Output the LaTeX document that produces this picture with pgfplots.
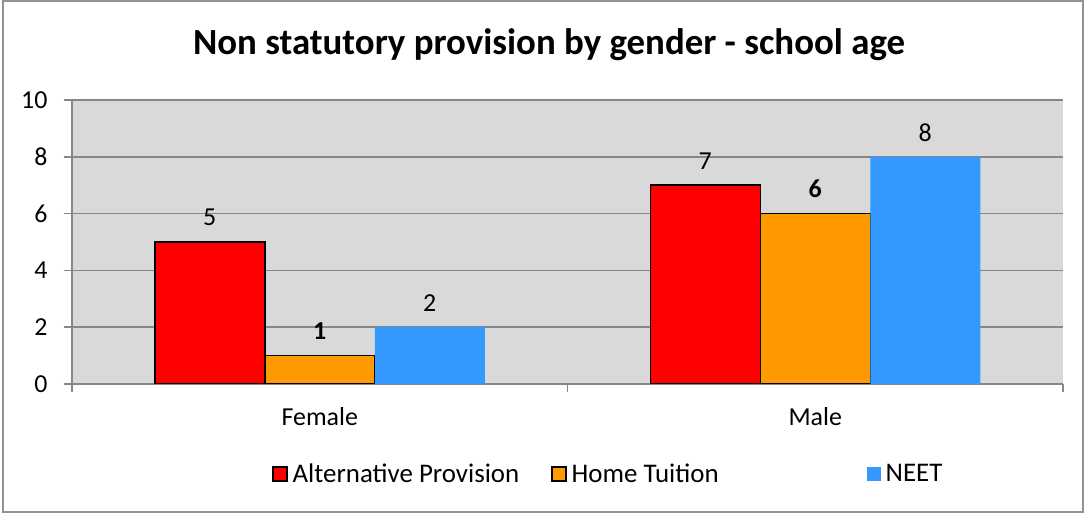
\documentclass[border=0pt]{standalone}
\usepackage{fontspec}
\setmainfont{Carlito}
\usepackage{pgfplots}
\pgfplotsset{compat=1.18}
\definecolor{apred}{HTML}{FF0000}
\definecolor{htorange}{HTML}{FF9900}
\definecolor{neetblue}{HTML}{3399FF}
\definecolor{bggray}{HTML}{D9D9D9}
\definecolor{gridgray}{HTML}{878787}
\begin{document}
\begin{tikzpicture}[x=1bp,y=1bp]
\path[use as bounding box] (-72,-130) rectangle (1020,384);
\draw[gridgray!90, line width=1.5bp] (-69,-128) rectangle (1011,383);
\begin{axis}[
  width=991bp, height=284bp, scale only axis,
  xmin=-0.5, xmax=1.5, ymin=0, ymax=10,
  ybar=0pt, bar width=110bp,
  axis lines*=left,
  axis line style={gridgray, line width=1.5bp},
  axis background/.style={fill=bggray},
  ymajorgrids, grid style={gridgray, line width=1.5bp},
  ytick={0,2,4,6,8,10},
  xtick={0,1}, xticklabels={Female,Male},
  xtick style={draw=none},
  ytick style={draw=gridgray, line width=1.5bp},
  tick align=outside, major tick length=8bp,
  extra x ticks={-0.5,0.5,1.5}, extra x tick labels={},
  extra x tick style={grid=none, xtick style={draw=gridgray, line width=1.5bp}},
  /pgf/number format/assume math mode=true,
  tick label style={font=\fontsize{26}{30}\selectfont},
  x tick label style={yshift=-12bp},
  y tick label style={xshift=-13bp},
  nodes near coords,
  every node near coord/.append style={font=\fontsize{26}{30}\selectfont, black, yshift=12bp},
  legend columns=3,
  legend style={at={(0.2018,-0.3169)}, anchor=west, draw=none, fill=none,
    font=\fontsize{27}{31}\selectfont, inner sep=0pt, column sep=0pt},
  legend image code/.code={\draw[#1,line width=1.5bp] (0bp,-7bp) rectangle (14bp,7bp);},
]
\addplot[fill=apred, draw=black, line width=1.5bp,
  legend image code/.code={\draw[fill=apred,draw=black,line width=1.5bp] (0bp,-7bp) rectangle (14bp,7bp);}]
  coordinates {(0,5) (1,7)};
\addlegendentry{\kern3bp Alternative Provision\kern30bp}
\addplot[fill=htorange, draw=black, line width=1.5bp,
  every node near coord/.append style={font=\fontsize{26}{30}\selectfont\bfseries},
  legend image code/.code={\draw[fill=htorange,draw=black,line width=1.5bp] (0bp,-7bp) rectangle (14bp,7bp);}]
  coordinates {(0,1) (1,6)};
\addlegendentry{\kern3bp Home Tuition\kern146bp}
\addplot[fill=neetblue, draw=none,
  legend image code/.code={\fill[neetblue] (0bp,-7bp) rectangle (14bp,7bp);}]
  coordinates {(0,2) (1,8)};
\addlegendentry{\kern3bp NEET}
\end{axis}
\node[font=\fontsize{37}{42}\selectfont\bfseries] at (477,339) {Non statutory provision by gender - school age};
\end{tikzpicture}
\end{document}
